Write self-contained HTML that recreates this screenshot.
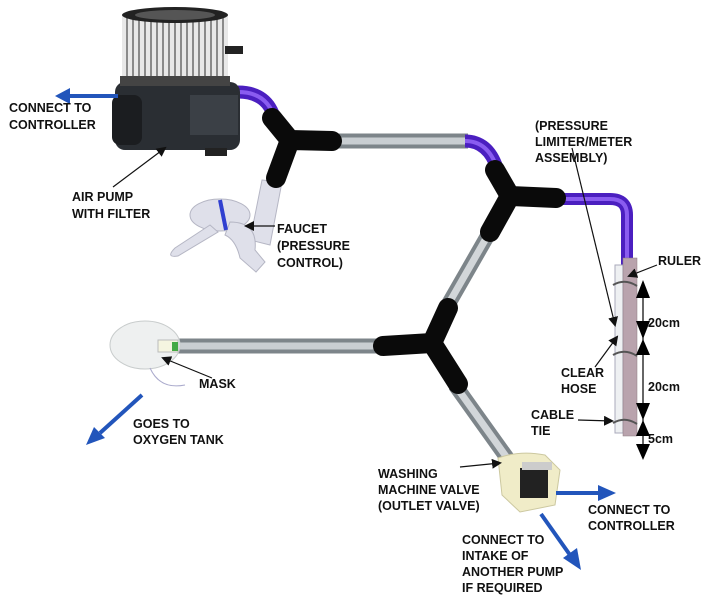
<!DOCTYPE html>
<html><head><meta charset="utf-8">
<style>
html,body{margin:0;padding:0;background:#fff;}
svg{display:block;}
text{font-family:"Liberation Sans",sans-serif;font-weight:bold;font-size:12.5px;fill:#111;}
</style></head><body>
<svg width="715" height="602" viewBox="0 0 715 602" xmlns="http://www.w3.org/2000/svg">
<defs>
<pattern id="pleat" width="6" height="10" patternUnits="userSpaceOnUse">
<rect width="6" height="10" fill="#e8e8e8"/><rect width="2" height="10" fill="#8a8a8a"/></pattern>
<marker id="ab" markerWidth="10" markerHeight="10" refX="8" refY="5" orient="auto" markerUnits="userSpaceOnUse">
<path d="M0,0 L10,5 L0,10 z" fill="#111"/></marker>
</defs>

<g stroke-linecap="butt" fill="none">
<line x1="325" y1="141" x2="468" y2="141" stroke="#7d858a" stroke-width="15"/>
<line x1="325" y1="141" x2="468" y2="141" stroke="#c9ced2" stroke-width="7"/>
<line x1="492" y1="228" x2="445" y2="310" stroke="#7d858a" stroke-width="15"/>
<line x1="492" y1="228" x2="445" y2="310" stroke="#d2d6d9" stroke-width="7"/>
<line x1="170" y1="346" x2="390" y2="346" stroke="#7d858a" stroke-width="15"/>
<line x1="170" y1="346" x2="390" y2="346" stroke="#c9ced2" stroke-width="7"/>
<line x1="455" y1="385" x2="510" y2="462" stroke="#7d858a" stroke-width="15"/>
<line x1="455" y1="385" x2="510" y2="462" stroke="#d2d6d9" stroke-width="7"/>
<path d="M238,92 Q268,92 275,120" stroke="#4b1fc0" stroke-width="13"/>
<path d="M238,92 Q268,92 275,120" stroke="#8a5cf0" stroke-width="4"/>
<path d="M465,141 Q488,141 497,168" stroke="#4b1fc0" stroke-width="13"/>
<path d="M465,141 Q488,141 497,168" stroke="#8a5cf0" stroke-width="4"/>
<path d="M555,199 L610,199 Q627,199 627,215 L627,265" stroke="#4b1fc0" stroke-width="12"/>
<path d="M555,199 L610,199 Q627,199 627,215 L627,265" stroke="#8a5cf0" stroke-width="4"/>
</g>

<!-- faucet -->
<g fill="#dfe0ea" stroke="#b5b6c4" stroke-width="1">
<path d="M262,180 L282,182 L270,245 L250,240 z"/>
<ellipse cx="220" cy="215" rx="30" ry="16"/>
<path d="M210,225 L175,248 Q165,258 178,256 L218,232 z"/>
<path d="M230,222 Q258,222 255,250 L265,262 L256,272 L240,258 Q236,240 225,235 z"/>
</g>
<line x1="220" y1="200" x2="226" y2="230" stroke="#3040d0" stroke-width="4"/>

<g stroke="#0a0a0a" stroke-linecap="round" fill="none">
<path d="M272,118 L290,140 L332,141 M290,140 L276,178" stroke-width="20"/>
<path d="M495,170 L510,196 L556,198 M510,196 L490,232" stroke-width="20"/>
<path d="M448,308 L432,343 L383,346 M432,343 L458,384" stroke-width="20"/>
</g>

<!-- pump -->
<rect x="115" y="82" width="125" height="68" rx="10" fill="#2a2e33"/>
<rect x="190" y="95" width="48" height="40" fill="#3b4046"/>
<rect x="112" y="95" width="30" height="50" rx="8" fill="#1b1d20"/>
<rect x="122" y="15" width="106" height="68" fill="url(#pleat)"/>
<ellipse cx="175" cy="15" rx="53" ry="8" fill="#222"/>
<ellipse cx="175" cy="15" rx="40" ry="5" fill="#555"/>
<rect x="120" y="76" width="110" height="10" fill="#444"/>
<rect x="225" y="46" width="18" height="8" fill="#222"/>
<rect x="205" y="148" width="22" height="8" fill="#222"/>

<!-- mask -->
<ellipse cx="145" cy="345" rx="35" ry="24" fill="#eef0f0" stroke="#c8cccc"/>
<rect x="158" y="340" width="20" height="12" fill="#f5f5e0" stroke="#bbb"/>
<rect x="172" y="342" width="6" height="9" fill="#4a4"/>
<path d="M150,368 Q160,390 185,385" stroke="#aac" fill="none"/>

<rect x="615" y="265" width="8" height="168" fill="#eef0f2" stroke="#aab" stroke-width="1"/>
<rect x="623" y="258" width="14" height="178" fill="#b9a3ad" stroke="#8a7a80" stroke-width="0.5"/>
<g stroke="#555" stroke-width="2" fill="none">
<path d="M613,285 Q625,278 637,286"/><path d="M613,355 Q625,348 637,356"/><path d="M613,423 Q625,416 637,424"/>
</g>

<g fill="#000">
<line x1="643" y1="282" x2="643" y2="458" stroke="#000" stroke-width="1.2"/>
<path d="M636,298 L643,280 L650,298z"/><path d="M636,321 L643,339 L650,321z"/>
<path d="M636,355 L643,339 L650,355z"/><path d="M636,403 L643,420 L650,403z"/>
<path d="M636,436 L643,420 L650,436z"/><path d="M636,444 L643,460 L650,444z"/>
</g>

<path d="M498,458 Q520,450 545,455 L560,470 L555,505 L520,512 L502,495z" fill="#f0ecc8" stroke="#ccc8a0"/>
<rect x="520" y="468" width="28" height="30" fill="#222"/>
<rect x="522" y="462" width="30" height="8" fill="#ccc"/>

<g stroke="#2255bb" stroke-width="4" fill="#2255bb">
<line x1="118" y1="96" x2="68" y2="96"/><path d="M70,88 L55,96 L70,104z" stroke="none"/>
<line x1="142" y1="395" x2="100" y2="433"/><path d="M94,427 L86,445 L105,438z" stroke="none"/>
<line x1="556" y1="493" x2="600" y2="493"/><path d="M598,485 L616,493 L598,501z" stroke="none"/>
<line x1="541" y1="514" x2="570" y2="555"/><path d="M563,558 L581,570 L577,548z" stroke="none"/>
</g>

<g stroke="#111" stroke-width="1.2" fill="none" marker-end="url(#ab)">
<line x1="113" y1="187" x2="165" y2="148"/>
<line x1="275" y1="226" x2="246" y2="226"/>
<line x1="212" y1="378" x2="163" y2="358"/>
<line x1="572" y1="148" x2="615" y2="325"/>
<line x1="595" y1="367" x2="617" y2="337"/>
<line x1="578" y1="420" x2="612" y2="421"/>
<line x1="657" y1="265" x2="629" y2="276"/>
<line x1="460" y1="467" x2="500" y2="463"/>
</g>

<text x="9" y="112">CONNECT TO</text>
<text x="9" y="129">CONTROLLER</text>
<text x="72" y="201">AIR PUMP</text>
<text x="72" y="218">WITH FILTER</text>
<text x="277" y="233">FAUCET</text>
<text x="277" y="250">(PRESSURE</text>
<text x="277" y="267">CONTROL)</text>
<text x="535" y="130">(PRESSURE</text>
<text x="535" y="146">LIMITER/METER</text>
<text x="535" y="162">ASSEMBLY)</text>
<text x="658" y="265">RULER</text>
<text x="648" y="327">20cm</text>
<text x="648" y="391">20cm</text>
<text x="648" y="443">5cm</text>
<text x="561" y="377">CLEAR</text>
<text x="561" y="393">HOSE</text>
<text x="531" y="419">CABLE</text>
<text x="531" y="435">TIE</text>
<text x="199" y="388">MASK</text>
<text x="133" y="428">GOES TO</text>
<text x="133" y="444">OXYGEN TANK</text>
<text x="378" y="478">WASHING</text>
<text x="378" y="494">MACHINE VALVE</text>
<text x="378" y="510">(OUTLET VALVE)</text>
<text x="588" y="514">CONNECT TO</text>
<text x="588" y="530">CONTROLLER</text>
<text x="462" y="544">CONNECT TO</text>
<text x="462" y="560">INTAKE OF</text>
<text x="462" y="576">ANOTHER PUMP</text>
<text x="462" y="592">IF REQUIRED</text>
</svg>
</body></html>
